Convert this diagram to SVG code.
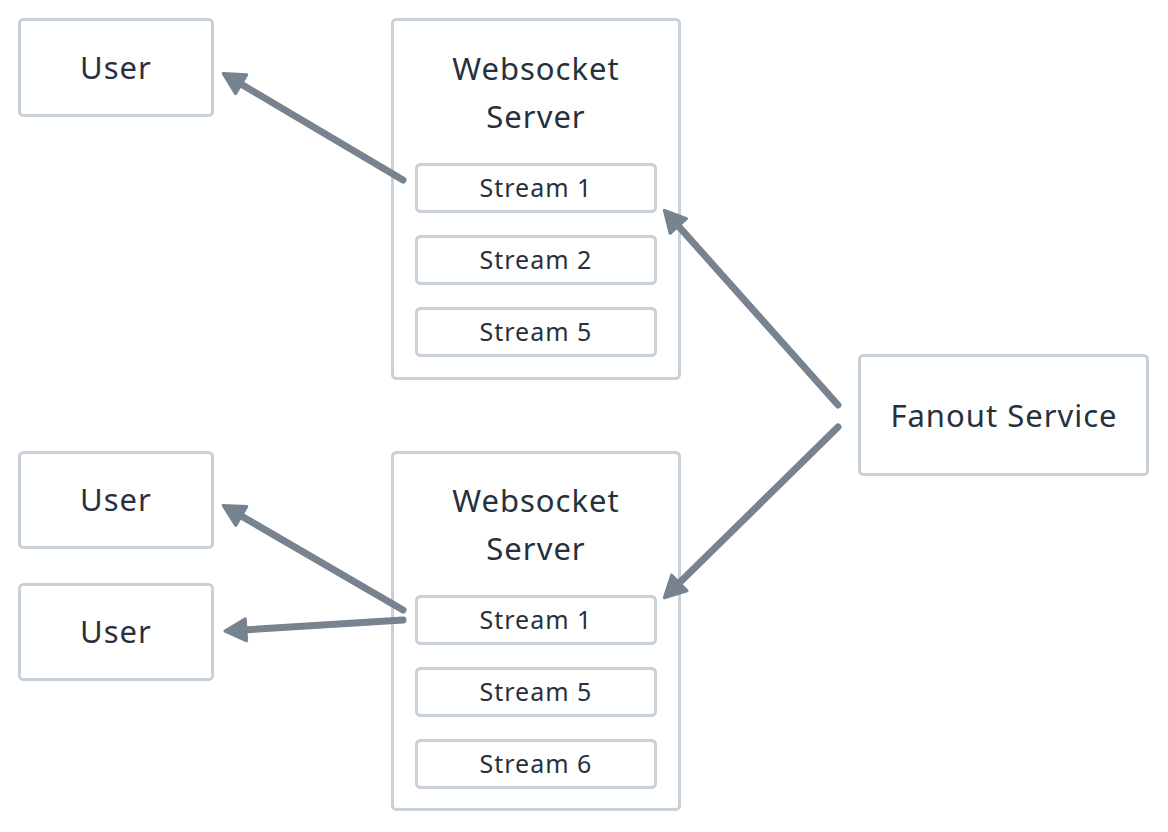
<svg xmlns="http://www.w3.org/2000/svg" width="1168" height="832" viewBox="0 0 1168 832">
<style>
.box{fill:#ffffff;stroke:#c8d0d8;stroke-width:3}
.t{font-family:"Noto Sans","Liberation Sans",sans-serif;fill:#27313d;text-anchor:middle}
.big{font-size:31px;letter-spacing:1px}
.sm{font-size:25px;letter-spacing:1px}
.conn{stroke:#77838f;stroke-width:7;stroke-linecap:round;fill:none}
</style>
<defs>
<marker id="ah" markerUnits="userSpaceOnUse" markerWidth="26" markerHeight="26" viewBox="0 0 26 26" refX="10" refY="13" orient="auto">
<path d="M2,2 L23,13 L2,24 z" fill="#77838f" stroke="#77838f" stroke-width="3" stroke-linejoin="round"/>
</marker>
</defs>
<rect width="1168" height="832" fill="#ffffff"/>
<g id="user1"><rect class="box" x="19.5" y="19.5" width="193" height="96" rx="4"/><text class="t big" x="116" y="79">User</text></g>
<g id="user2"><rect class="box" x="19.5" y="452.5" width="193" height="95" rx="4"/><text class="t big" x="116" y="511">User</text></g>
<g id="user3"><rect class="box" x="19.5" y="584.5" width="193" height="95" rx="4"/><text class="t big" x="116" y="643">User</text></g>
<g id="ws1">
<rect class="box" x="392.5" y="19.5" width="287" height="359" rx="4"/>
<text class="t big" x="536" y="80">Websocket</text>
<text class="t big" x="536" y="128">Server</text>
<g id="ws1s1"><rect class="box" x="416.5" y="164.5" width="239" height="47" rx="4"/><text class="t sm" x="536" y="197">Stream 1</text></g>
<g id="ws1s2"><rect class="box" x="416.5" y="236.5" width="239" height="47" rx="4"/><text class="t sm" x="536" y="269">Stream 2</text></g>
<g id="ws1s5"><rect class="box" x="416.5" y="308.5" width="239" height="47" rx="4"/><text class="t sm" x="536" y="341">Stream 5</text></g>
</g>
<g id="ws2">
<rect class="box" x="392.5" y="452.5" width="287" height="357" rx="4"/>
<text class="t big" x="536" y="512">Websocket</text>
<text class="t big" x="536" y="560">Server</text>
<g id="ws2s1"><rect class="box" x="416.5" y="596.5" width="239" height="47" rx="4"/><text class="t sm" x="536" y="629">Stream 1</text></g>
<g id="ws2s5"><rect class="box" x="416.5" y="668.5" width="239" height="47" rx="4"/><text class="t sm" x="536" y="701">Stream 5</text></g>
<g id="ws2s6"><rect class="box" x="416.5" y="740.5" width="239" height="47" rx="4"/><text class="t sm" x="536" y="773">Stream 6</text></g>
</g>
<g id="fanout"><rect class="box" x="859.5" y="355.5" width="288" height="119" rx="4"/><text class="t big" x="1004" y="427">Fanout Service</text></g>
<g id="connectors">
<line class="conn" x1="403" y1="180" x2="234.3" y2="80.1" marker-end="url(#ah)"/>
<line class="conn" x1="838" y1="405" x2="673" y2="220" marker-end="url(#ah)"/>
<line class="conn" x1="838" y1="427" x2="673.6" y2="588.6" marker-end="url(#ah)"/>
<line class="conn" x1="403" y1="610" x2="234.4" y2="512" marker-end="url(#ah)"/>
<line class="conn" x1="403" y1="620" x2="238" y2="630.3" marker-end="url(#ah)"/>
</g>
</svg>
